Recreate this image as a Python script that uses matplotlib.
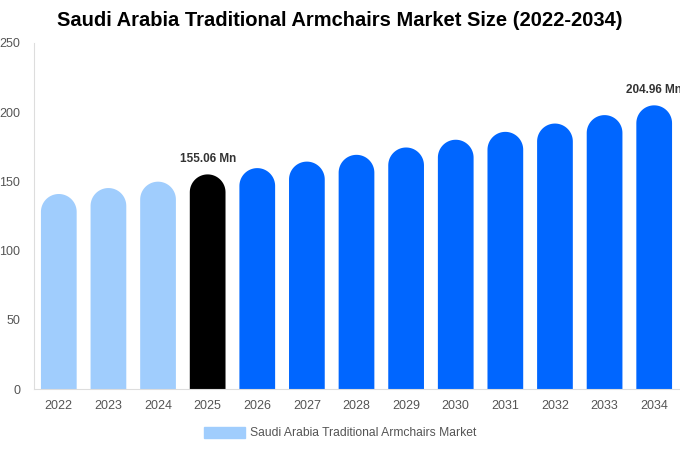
import matplotlib
matplotlib.use("Agg")
import matplotlib.pyplot as plt
import numpy as np
from matplotlib.patches import Patch, PathPatch
from matplotlib.path import Path


years = ["2022", "2023", "2024", "2025", "2026", "2027", "2028",
         "2029", "2030", "2031", "2032", "2033", "2034"]
values = [140.9, 145.2, 149.8, 155.06, 159.6, 164.3, 169.2,
          174.5, 180.1, 185.8, 191.8, 197.9, 204.96]
colors = ["#a0cdfd"] * 3 + ["#000000"] + ["#0066ff"] * 9
labels = {3: "155.06 Mn", 12: "204.96 Mn"}

plt.rcParams["font.family"] = ["Liberation Sans", "DejaVu Sans"]


def rounded_bar(x, height, width, ry):
    # bar outline with a half-ellipse on top (round in pixels)
    rx = width / 2
    t = np.linspace(np.pi, 0, 40)
    top_x = x + rx * np.cos(t)
    top_y = height - ry + ry * np.sin(t)
    xs = np.concatenate([[x - rx], top_x, [x + rx, x - rx]])
    ys = np.concatenate([[0], top_y, [0, 0]])
    codes = [Path.MOVETO] + [Path.LINETO] * (len(xs) - 2) + [Path.CLOSEPOLY]
    return Path(np.column_stack([xs, ys]), codes)


fig = plt.figure(figsize=(6.8, 4.5), dpi=100)
ax = fig.add_axes([34 / 680, 61 / 450, 645 / 680, 346 / 450])

ax.set_xlim(-0.5, 12.5)
ax.set_ylim(0, 250)

bar_w = 0.72
px_per_x = 645 / 13
px_per_y = 346 / 250
ry = (bar_w / 2) * px_per_x / px_per_y

for i, (v, c) in enumerate(zip(values, colors)):
    ax.add_patch(PathPatch(rounded_bar(i, v, bar_w, ry), facecolor=c,
                           edgecolor="none"))
    if i in labels:
        ax.text(i, v + 7, labels[i], ha="center", va="bottom",
                fontsize=8.5, fontweight="bold", color="#333333",
                clip_on=False)

ax.set_xticks(range(len(years)))
ax.set_xticklabels(years)
ax.set_yticks([0, 50, 100, 150, 200, 250])
ax.tick_params(axis="both", length=0, labelsize=9, colors="#555555")
ax.tick_params(axis="x", pad=8)
ax.tick_params(axis="y", pad=10)

for side in ["top", "right"]:
    ax.spines[side].set_visible(False)
ax.spines["left"].set_color("#dddddd")
ax.spines["bottom"].set_color("#dddddd")

fig.suptitle("Saudi Arabia Traditional Armchairs Market Size (2022-2034)",
             x=0.5, y=0.975, fontsize=14.5, fontweight="bold", va="top")

handle = Patch(color="#a0cdfd", label="Saudi Arabia Traditional Armchairs Market")
fig.legend(handles=[handle], loc="center", bbox_to_anchor=(0.5, 1 - 433 / 450),
           frameon=False, fontsize=8.7, handlelength=3.4, handleheight=1.0,
           handletextpad=0.45, labelcolor="#555555")

plt.savefig("out.png", dpi=100)
plt.close()
